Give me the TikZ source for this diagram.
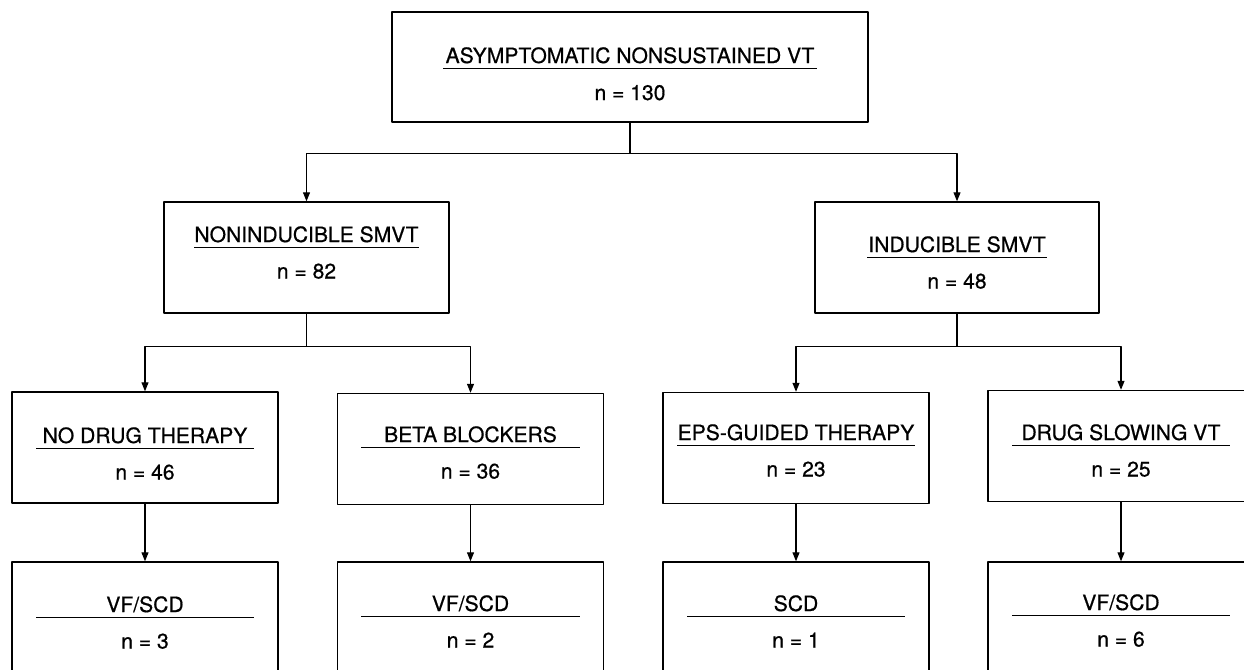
\documentclass[tikz,border=0pt]{standalone}
\usepackage{fontspec}
\setmainfont{TeX Gyre Heros}[FakeBold=0.6]
\usetikzlibrary{arrows.meta,positioning}
\tikzset{
  box/.style={draw, rectangle, line width=0.8pt, minimum width=5.32cm, minimum height=2.22cm},
  ttl/.style={anchor=base, inner xsep=0pt, inner ysep=0.1cm, text depth=0pt, minimum width=4.34cm, minimum height=0pt},
  cnt/.style={anchor=base, inner sep=0pt},
  ul/.style={line width=0.6pt},
  arr/.style={->, line width=0.6pt},
}
\begin{document}
\begin{tikzpicture}[font=\fontsize{12}{14}\selectfont, line join=round, >={Triangle[length=1.8mm,width=1.4mm]}]
				\useasboundingbox (0,0) rectangle (24.88,13.38);
				\clip (0,0) rectangle (24.88,13.38);
				% boxes
				\node[box, minimum width=9.52cm, minimum height=2.2cm] (top) at (12.6,12.04) {};
				\node[box, minimum width=5.7cm] (nonind) at (6.13,8.23) {};
				\node[box, minimum width=5.68cm] (ind) at (19.14,8.23) {};
				\node[box] (nodrug) at (2.9,4.43) {};
				\node[box] (beta) at (9.41,4.40) {};
				\node[box] (eps) at (15.92,4.42) {};
				\node[box] (slow) at (22.42,4.46) {};
				\node[box] (vf1) at (2.9,1.03) {};
				\node[box] (vf2) at (9.41,1.03) {};
				\node[box] (scd) at (15.92,1.03) {};
				\node[box] (vf4) at (22.42,1.03) {};
				% titles
				\node[ttl, minimum width=7.46cm] (top-t) at ([yshift=0.08cm]top.center) {ASYMPTOMATIC NONSUSTAINED VT};
				\node[ttl, minimum width=4.44cm] (nonind-t) at ([yshift=0.31cm]nonind.center) {NONINDUCIBLE SMVT};
				\node[ttl, minimum width=3.58cm] (ind-t) at ([yshift=0.11cm]ind.center) {INDUCIBLE SMVT};
				\node[ttl] (nodrug-t) at ([yshift=0.09cm]nodrug.center) {NO DRUG THERAPY};
				\node[ttl, minimum width=4.36cm] (beta-t) at ([yshift=0.14cm]beta.center) {BETA BLOCKERS};
				\node[ttl, minimum width=4.64cm] (eps-t) at ([yshift=0.16cm]eps.center) {EPS-GUIDED THERAPY};
				\node[ttl] (slow-t) at ([yshift=0.12cm]slow.center) {DRUG SLOWING VT};
				\node[ttl] (vf1-t) at ([yshift=0.11cm]vf1.center) {VF/SCD};
				\node[ttl, minimum width=4.36cm] (vf2-t) at ([yshift=0.13cm]vf2.center) {VF/SCD};
				\node[ttl] (scd-t) at ([yshift=0.13cm]scd.center) {SCD};
				\node[ttl] (vf4-t) at ([yshift=0.15cm]vf4.center) {VF/SCD};
				\foreach \b in {top,nonind,ind,nodrug,beta,eps,slow,vf1,vf2,scd,vf4}{
					\draw[ul] (\b-t.south west) -- (\b-t.south east);}
				% counts
				\node[cnt] (top-n) at ([yshift=-0.74cm]top-t.base) {n = 130};
				\node[cnt] (nonind-n) at ([yshift=-0.73cm]nonind-t.base) {n = 82};
				\node[cnt] (ind-n) at ([yshift=-0.73cm]ind-t.base) {n = 48};
				\node[cnt] (nodrug-n) at ([yshift=-0.73cm]nodrug-t.base) {n = 46};
				\node[cnt] (beta-n) at ([yshift=-0.73cm]beta-t.base) {n = 36};
				\node[cnt] (eps-n) at ([yshift=-0.73cm]eps-t.base) {n = 23};
				\node[cnt] (slow-n) at ([yshift=-0.73cm]slow-t.base) {n = 25};
				\node[cnt] (vf1-n) at ([yshift=-0.73cm]vf1-t.base) {n = 3};
				\node[cnt] (vf2-n) at ([yshift=-0.73cm]vf2-t.base) {n = 2};
				\node[cnt] (scd-n) at ([yshift=-0.73cm]scd-t.base) {n = 1};
				\node[cnt] (vf4-n) at ([yshift=-0.73cm]vf4-t.base) {n = 6};
				% connectors
				\coordinate (j0) at ([yshift=-0.62cm]top.south);
				\coordinate (j1) at ([yshift=-0.65cm]nonind.south);
				\coordinate (j2) at ([yshift=-0.65cm]ind.south);
				\draw[line width=0.6pt] (top.south) -- (j0);
				\draw[arr] (j0) -| (nonind.north);
				\draw[arr] (j0) -| (ind.north);
				\draw[line width=0.6pt] (nonind.south) -- (j1);
				\draw[arr] (j1) -| (nodrug.north);
				\draw[arr] (j1) -| (beta.north);
				\draw[line width=0.6pt] (ind.south) -- (j2);
				\draw[arr] (j2) -| (eps.north);
				\draw[arr] (j2) -| (slow.north);
				\draw[arr] (nodrug.south) -- (vf1.north);
				\draw[arr] (beta.south) -- (vf2.north);
				\draw[arr] (eps.south) -- (scd.north);
				\draw[arr] (slow.south) -- (vf4.north);
			\end{tikzpicture}
\end{document}
